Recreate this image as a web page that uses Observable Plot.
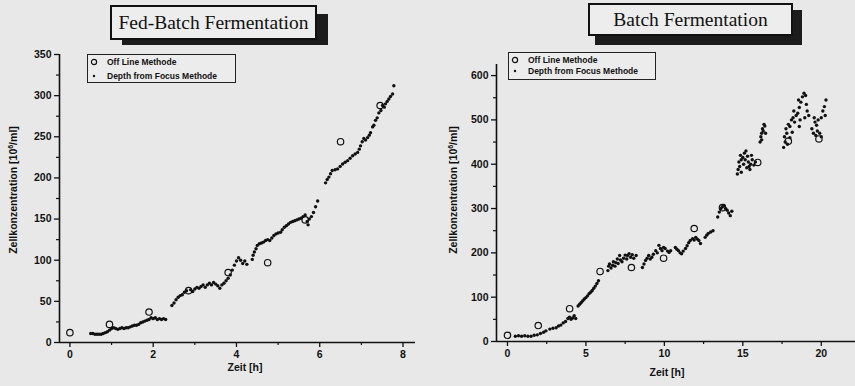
<!DOCTYPE html>
<html><head><meta charset="utf-8">
<script src="https://cdn.jsdelivr.net/npm/d3@7"></script>
<script src="https://cdn.jsdelivr.net/npm/@observablehq/plot@0.6"></script>
<style>
body{margin:0;background:#e8e8e8;overflow:hidden;}
#root{position:relative;width:855px;height:386px;overflow:hidden;font-family:"Liberation Sans",Arial,sans-serif;color:#111;}
.chart{position:absolute;top:0;}
.title{position:absolute;font-family:"Liberation Serif","Times New Roman",serif;font-size:19.5px;color:#111;background:#ededed;border:2px solid #111;box-sizing:border-box;display:flex;align-items:center;justify-content:center;white-space:nowrap;}
.shadow{position:absolute;background:#1c1c1c;}
.legend{position:absolute;border:1px solid #222;box-sizing:border-box;font-size:8.5px;font-weight:bold;background:#ececec;}
.legend .row{position:absolute;left:0;white-space:nowrap;line-height:10px;}
.legend svg{position:absolute;}
.ylab{position:absolute;font-size:10.5px;font-weight:bold;white-space:nowrap;transform:translate(-50%,-50%) rotate(-90deg);}
.xlab{position:absolute;font-size:10.5px;font-weight:bold;white-space:nowrap;transform:translate(-50%,-50%);}
</style></head>
<body><div id="root"></div>
<script>
// ---------- Data: Fed-Batch (left) ----------
const fedOffX = [0, 0.95, 1.9, 2.85, 3.8, 4.75, 5.65, 6.5, 7.45];
const fedOffY = [12, 22, 37, 63, 85, 97, 149, 244, 288];
const fedDffX = [0.5,0.55,0.6,0.65,0.7,0.75,0.8,0.85,0.9,0.95,1.0,1.05,1.1,1.15,1.2,1.25,1.3,1.35,1.4,1.45,1.5,1.55,1.6,1.65,1.7,1.75,1.8,1.85,1.9,1.95,2.0,2.05,2.1,2.15,2.2,2.25,2.3,
 2.45,2.5,2.55,2.6,2.65,2.7,2.75,2.8,2.9,2.95,3.0,3.05,3.1,3.15,3.2,3.25,3.3,3.35,3.4,3.45,3.5,3.55,3.6,3.65,3.7,3.75,3.8,3.85,3.9,3.95,4.0,4.05,4.1,4.15,4.2,4.25,
 4.38,4.4,4.43,4.47,4.5,4.55,4.6,4.65,4.7,4.75,4.8,4.85,4.9,4.95,5.0,5.06,5.1,5.15,5.2,5.25,5.3,5.35,5.4,5.45,5.5,5.55,5.6,5.65,5.7,5.72,5.75,5.8,5.85,5.9,5.95,
 6.14,6.18,6.22,6.26,6.3,6.37,6.43,6.49,6.55,6.61,6.67,6.73,6.79,6.85,6.91,6.95,6.98,7.02,7.06,7.1,7.15,7.19,7.22,7.27,7.3,7.34,7.38,7.42,7.47,7.51,7.55,7.58,7.62,7.66,7.7,7.75,7.78];
const fedDffY = [11,11,10,10,10,10,11,12,13,15,17,18,17,16,17,18,17,18,18,19,20,21,21,22,24,25,26,27,28,30,29,30,28,29,28,29,28,
 45,48,52,55,57,58,61,63,64,62,65,67,66,68,70,67,70,72,70,73,71,69,66,70,72,75,78,82,88,94,99,103,100,96,99,95,
 101,106,110,114,118,120,121,122,124,125,124,127,130,132,133,134,137,140,142,144,146,147,148,149,150,151,153,155,147,143,150,153,158,165,172,
 194,198,201,205,209,210,211,214,217,219,221,224,227,229,231,235,239,244,248,246,249,252,255,262,264,270,273,279,282,288,286,290,293,296,299,302,312];

// ---------- Data: Batch (right) ----------
const batOffX = [0, 1.96, 3.96, 5.9, 7.9, 9.95, 11.9, 13.7, 15.95, 17.9, 19.85];
const batOffY = [14, 36, 74, 158, 167, 188, 255, 302, 404, 452, 457];
const batDffX = [0.5,0.7,0.9,1.1,1.3,1.5,1.7,1.9,2.1,2.3,2.45,
 2.7,2.9,3.1,3.25,3.4,3.55,3.7,3.85,3.95,4.05,4.15,4.25,4.35,
 4.5,4.6,4.7,4.8,4.9,5.0,5.1,5.2,5.3,5.4,5.5,5.6,5.7,5.8,
 6.4,6.45,6.5,6.6,6.7,6.75,6.85,6.9,7.0,7.05,7.15,7.2,7.3,7.4,7.5,7.6,7.65,7.75,7.85,7.95,8.05,8.2,
 8.6,8.7,8.8,8.9,9.0,9.1,9.2,9.3,9.45,9.55,9.65,9.75,9.85,9.95,10.05,10.2,10.3,10.4,
 10.7,10.8,10.9,11.0,11.1,11.2,11.35,11.45,11.55,11.65,11.8,11.9,12.0,12.1,12.2,12.3,
 12.6,12.7,12.8,12.95,13.1,
 13.4,13.5,13.6,13.7,13.8,13.9,14.0,14.1,14.2,14.3,
 14.65,14.7,14.8,14.75,14.9,14.85,15.0,15.05,15.1,15.2,15.15,15.3,15.35,15.4,15.5,15.55,15.6,15.7,15.8,14.9,15.25,15.45,
 16.1,16.15,16.2,16.25,16.3,16.35,16.4,16.2,16.45,
 17.6,17.7,17.65,17.8,17.75,17.9,18.0,18.1,18.2,18.0,18.15,18.3,17.85,18.4,18.25,
 18.5,18.6,18.7,18.8,18.9,19.0,19.05,19.1,18.65,18.6,18.95,19.2,18.55,
 19.4,19.5,19.6,19.7,19.75,19.8,19.9,20.0,20.0,20.1,20.2,20.3,20.25,19.55,19.65];
const batDffY = [12,13,12,13,12,12,14,15,18,21,24,
 28,30,31,35,37,42,45,52,55,50,53,58,52,
 80,84,88,92,96,99,103,108,111,115,120,125,131,137,
 160,170,175,166,172,180,170,178,186,176,194,184,180,188,195,186,194,198,190,196,188,194,
 167,175,183,188,194,186,190,197,205,200,217,210,205,212,210,204,201,205,
 212,208,205,200,198,204,210,216,223,228,232,229,235,231,228,221,
 235,240,244,247,250,
 281,292,300,304,307,300,296,290,284,294,
 378,388,395,405,410,420,415,400,425,430,410,418,405,395,400,420,410,398,405,382,392,388,
 450,462,470,480,475,490,486,455,470,
 438,450,462,470,480,490,485,500,505,460,472,495,445,510,520,
 515,528,540,552,560,555,535,520,500,485,505,510,545,
 480,470,495,488,475,500,470,462,505,520,530,545,510,505,465];

// tick values
const fedXTicks = [0, 2, 4, 6, 8], fedXMinor = [1, 3, 5, 7];
const fedYTicks = [0, 50, 100, 150, 200, 250, 300, 350], fedYMinor = [25, 75, 125, 175, 225, 275, 325];
const batXTicks = [0, 5, 10, 15, 20], batXMinor = [2.5, 7.5, 12.5, 17.5];
const batYTicks = [0, 100, 200, 300, 400, 500, 600], batYMinor = [50, 150, 250, 350, 450, 550];

const ink = "#111";
const toRows = (xs, ys) => xs.map((x, i) => ({x, y: ys[i]}));

function chart({width, marginLeft, marginRight, marginTop, marginBottom, xDomain, yDomain, xT, xM, yT, yM, dff, off}) {
  return Plot.plot({
    width, height: 386, marginLeft, marginRight, marginTop, marginBottom,
    style: {background: "transparent", fontFamily: "Liberation Sans, Arial, sans-serif", fontSize: "10.5px", fontWeight: "bold", color: ink, overflow: "visible"},
    x: {domain: xDomain},
    y: {domain: yDomain},
    marks: [
      Plot.axisX({ticks: xT, tickSize: 5, tickPadding: 3, label: null, stroke: ink, strokeWidth: 1.3, tickFormat: d => String(d)}),
      Plot.axisX({ticks: xM, tickSize: 3, label: null, stroke: ink, strokeWidth: 1.2, tickFormat: () => ""}),
      Plot.axisY({ticks: yT, tickSize: 5, tickPadding: 3, label: null, stroke: ink, strokeWidth: 1.3, tickFormat: d => String(d)}),
      Plot.axisY({ticks: yM, tickSize: 3, label: null, stroke: ink, strokeWidth: 1.2, tickFormat: () => ""}),
      Plot.ruleX([xDomain[0]], {stroke: ink, strokeWidth: 1.6}),
      Plot.ruleY([yDomain[0]], {stroke: ink, strokeWidth: 1.6}),
      Plot.dot(dff, {x: "x", y: "y", r: 1.7, fill: ink, stroke: "none"}),
      Plot.dot(off, {x: "x", y: "y", r: 3.2, stroke: ink, strokeWidth: 1.2, fill: "none"})
    ]
  });
}

const root = document.getElementById("root");

const left = chart({width: 430, marginLeft: 59, marginRight: 15, marginTop: 54, marginBottom: 44,
  xDomain: [-0.25, 8.3], yDomain: [0, 350], xT: fedXTicks, xM: fedXMinor, yT: fedYTicks, yM: fedYMinor,
  dff: toRows(fedDffX, fedDffY), off: toRows(fedOffX, fedOffY)});
left.classList.add("chart"); left.style.left = "0px";
root.appendChild(left);

const right = chart({width: 420, marginLeft: 56, marginRight: 0, marginTop: 64, marginBottom: 45,
  xDomain: [-0.7, 22.5], yDomain: [0, 625], xT: batXTicks, xM: batXMinor, yT: batYTicks, yM: batYMinor,
  dff: toRows(batDffX, batDffY), off: toRows(batOffX, batOffY)});
right.classList.add("chart"); right.style.left = "440px";
root.appendChild(right);

function add(html) { const d = document.createElement("div"); d.innerHTML = html; root.appendChild(d.firstElementChild); }

// titles with shadow
add(`<div class="shadow" style="left:122px;top:14px;width:206px;height:31px"></div>`);
add(`<div class="title" style="left:110px;top:5px;width:207px;height:35px">Fed-Batch Fermentation</div>`);
add(`<div class="shadow" style="left:595px;top:10px;width:207px;height:35px"></div>`);
add(`<div class="title" style="left:588px;top:3px;width:205px;height:33px">Batch Fermentation</div>`);

// legends
function legend(l, t, w, h, y1, y2) {
  add(`<div class="legend" style="left:${l}px;top:${t}px;width:${w}px;height:${h}px">
    <svg width="10" height="10" style="left:1px;top:${y1 - 5}px"><circle cx="5" cy="5" r="2.6" fill="none" stroke="#111" stroke-width="1.2"/></svg>
    <div class="row" style="left:19px;top:${y1 - 5}px">Off Line  Methode</div>
    <svg width="10" height="10" style="left:1px;top:${y2 - 5}px"><circle cx="5" cy="5" r="1.2" fill="#111"/></svg>
    <div class="row" style="left:19px;top:${y2 - 5}px">Depth from Focus Methode</div>
  </div>`);
}
legend(87, 54, 149, 29, 7, 21);
legend(508, 52, 148, 28, 7, 18);

// axis labels
add(`<div class="ylab" style="left:13px;top:190px">Zellkonzentration [10<sup style="font-size:7px">6</sup>/ml]</div>`);
add(`<div class="ylab" style="left:453px;top:190px">Zellkonzentration [10<sup style="font-size:7px">6</sup>/ml]</div>`);
add(`<div class="xlab" style="left:245px;top:367px">Zeit [h]</div>`);
add(`<div class="xlab" style="left:667px;top:372px">Zeit [h]</div>`);
</script>
</body></html>
